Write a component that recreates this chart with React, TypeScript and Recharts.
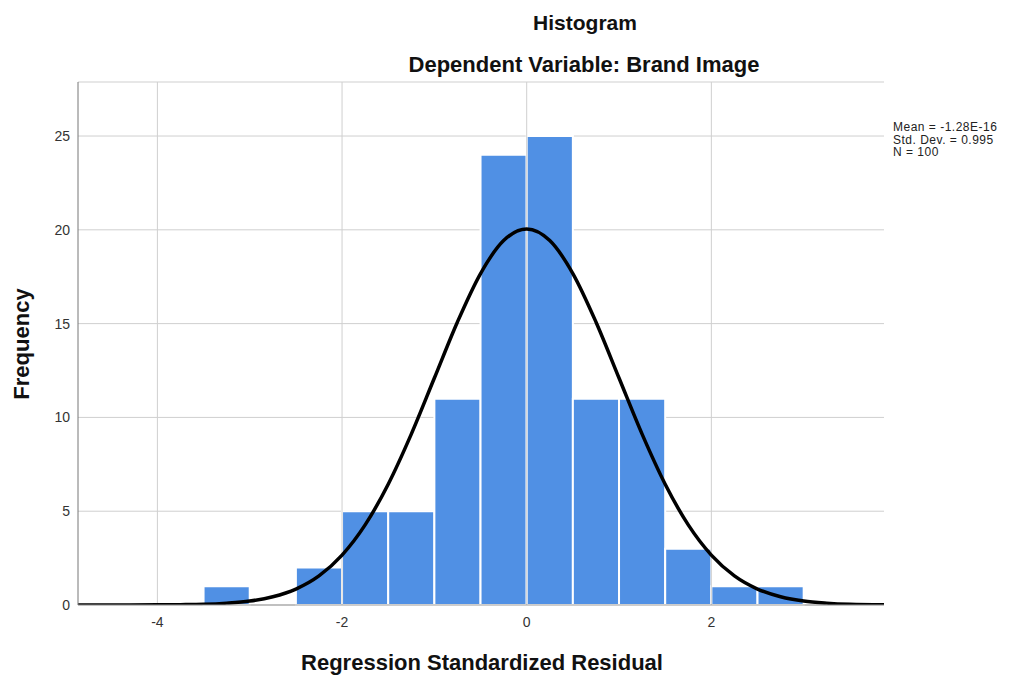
import React from 'react';
import { ComposedChart, Line, XAxis, YAxis, CartesianGrid, ReferenceArea, ReferenceLine } from 'recharts';

// Histogram bins (lower edge, upper edge, frequency)
const binStarts = [-3.5, -3.0, -2.5, -2.0, -1.5, -1.0, -0.5, 0.0, 0.5, 1.0, 1.5, 2.0, 2.5];
const binEnds = [-3.0, -2.5, -2.0, -1.5, -1.0, -0.5, 0.0, 0.5, 1.0, 1.5, 2.0, 2.5, 3.0];
const binCounts = [1, 0, 2, 5, 5, 11, 24, 25, 11, 11, 3, 1, 1];

// Normal curve
const curveX = [-4.86, -4.5, -4.0, -3.75, -3.5, -3.25, -3.0, -2.75, -2.5, -2.25, -2.0, -1.75, -1.5, -1.25, -1.0, -0.75, -0.5, -0.25, 0.0, 0.25, 0.5, 0.75, 1.0, 1.25, 1.5, 1.75, 2.0, 2.25, 2.5, 2.75, 3.0, 3.25, 3.5, 3.87];
const curveY = [0.0, 0.0, 0.01, 0.02, 0.04, 0.1, 0.21, 0.44, 0.85, 1.55, 2.66, 4.27, 6.44, 9.11, 12.1, 15.09, 17.67, 19.43, 20.05, 19.43, 17.67, 15.09, 12.1, 9.11, 6.44, 4.27, 2.66, 1.55, 0.85, 0.44, 0.21, 0.1, 0.04, 0.01];

const xTicks = [-4, -2, 0, 2];
const yTicks = [0, 5, 10, 15, 20, 25];
const statsLines = ['Mean = -1.28E-16', 'Std. Dev. = 0.995', 'N = 100'];
const titleText = 'Histogram';
const subtitleText = 'Dependent Variable: Brand Image';
const xLabel = 'Regression Standardized Residual';
const yLabel = 'Frequency';

const curveData = curveX.map((x, i) => ({ x, y: curveY[i] }));

const FONT = '"Liberation Sans", Arial, sans-serif';

export default function App() {
  return (
    <div style={{ position: 'absolute', left: 0, top: 0, background: '#fff' }}>
      <ComposedChart
        width={1017}
        height={675}
        data={curveData}
        margin={{ top: 82, right: 133, bottom: 0, left: 0 }}
      >
        <CartesianGrid stroke="#cfcfcf" strokeWidth={1} vertical={false} />
        <XAxis
          dataKey="x"
          type="number"
          domain={[-4.86, 3.87]}
          ticks={xTicks}
          allowDataOverflow
          height={70}
          tickLine={false}
          axisLine={{ stroke: '#999' }}
          tick={{ fontSize: 14, fill: '#333', fontFamily: FONT }}
          tickMargin={6}
        />
        <YAxis
          type="number"
          domain={[0, 27.88]}
          ticks={yTicks}
          allowDataOverflow
          width={78}
          tickLine={false}
          axisLine={{ stroke: '#777' }}
          tick={{ fontSize: 14, fill: '#333', fontFamily: FONT }}
          tickMargin={2}
        />
        {xTicks.map((t) => (
          <ReferenceLine key={'g' + t} x={t} stroke="#cfcfcf" strokeWidth={1} />
        ))}
        {binCounts.map((c, i) =>
          c > 0 ? (
            <ReferenceArea
              key={i}
              x1={binStarts[i]}
              x2={binEnds[i]}
              y1={0}
              y2={c}
              fill="#5090e4"
              fillOpacity={1}
              stroke="#ffffff"
              strokeWidth={2}
              ifOverflow="visible"
            />
          ) : null
        )}
        <Line
          dataKey="y"
          type="monotone"
          stroke="#000"
          strokeWidth={3.5}
          dot={false}
          activeDot={false}
          isAnimationActive={false}
        />
        <text x={585} y={30} textAnchor="middle" style={{ fontSize: 21, fontWeight: 'bold', fontFamily: FONT }} fill="#111">
          {titleText}
        </text>
        <text x={584} y={72} textAnchor="middle" style={{ fontSize: 22, fontWeight: 'bold', fontFamily: FONT }} fill="#111">
          {subtitleText}
        </text>
        <text x={482} y={670} textAnchor="middle" style={{ fontSize: 22, fontWeight: 'bold', fontFamily: FONT }} fill="#111">
          {xLabel}
        </text>
        <text x={29} y={344} textAnchor="middle" transform="rotate(-90, 29, 344)" style={{ fontSize: 22, fontWeight: 'bold', fontFamily: FONT }} fill="#111">
          {yLabel}
        </text>
        {statsLines.map((s, i) => (
          <text key={i} x={893} y={131 + i * 12.5} style={{ fontSize: 12, fontFamily: FONT, letterSpacing: 0.5 }} fill="#222">
            {s}
          </text>
        ))}
      </ComposedChart>
    </div>
  );
}
